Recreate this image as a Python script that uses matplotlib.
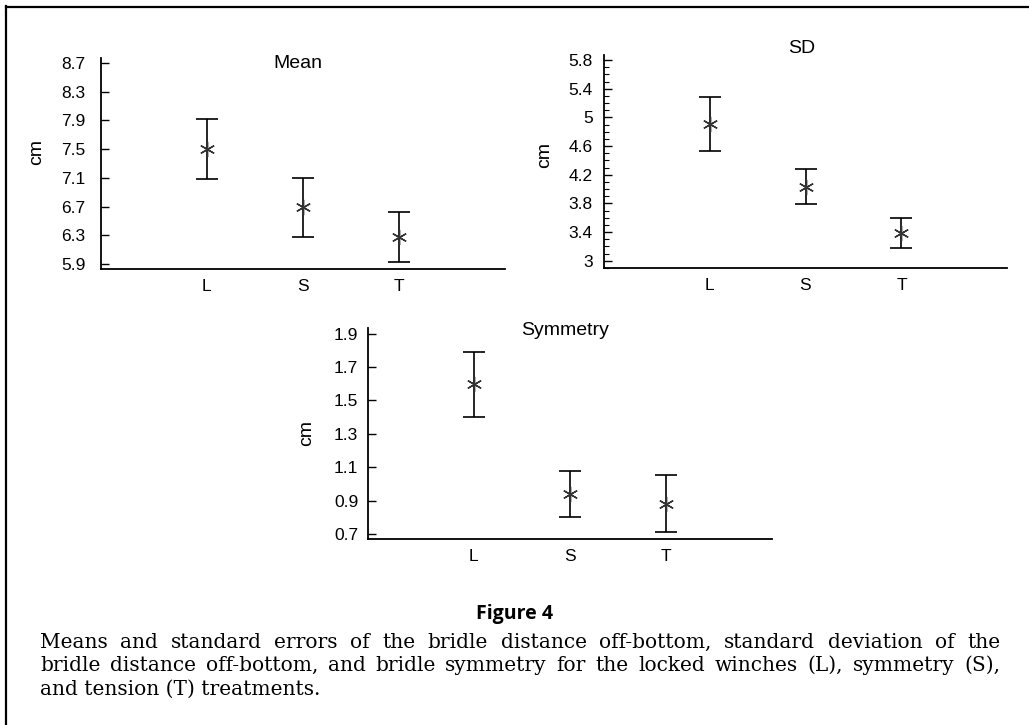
import matplotlib
matplotlib.use("Agg")
import matplotlib.pyplot as plt
import numpy as np

categories = ["L", "S", "T"]

mean_vals = [7.50, 6.70, 6.27]
mean_upper = [7.92, 7.10, 6.62]
mean_lower = [7.08, 6.28, 5.93]
mean_ticks = [5.9, 6.3, 6.7, 7.1, 7.5, 7.9, 8.3, 8.7]

sd_vals = [4.91, 4.03, 3.39]
sd_upper = [5.285, 4.28, 3.60]
sd_lower = [4.53, 3.79, 3.18]
sd_ticks = [3, 3.4, 3.8, 4.2, 4.6, 5, 5.4, 5.8]

sym_vals = [1.596, 0.94, 0.88]
sym_upper = [1.79, 1.078, 1.056]
sym_lower = [1.40, 0.80, 0.71]
sym_ticks = [0.7, 0.9, 1.1, 1.3, 1.5, 1.7, 1.9]

titles = ["Mean", "SD", "Symmetry"]
ylabel = "cm"
fig_title = "Figure 4"
caption_lines = [
    "Means and standard errors of the bridle distance off-bottom, standard deviation of the",
    "bridle distance off-bottom, and bridle symmetry for the locked winches (L), symmetry (S),",
    "and tension (T) treatments.",
]

W, H = 1029, 725
fig = plt.figure(figsize=(W / 100, H / 100), dpi=100)
plt.rcParams['font.family'] = ['Liberation Sans', 'DejaVu Sans']

def px_axes(l, r, t, b):
    return fig.add_axes([l / W, 1 - b / H, (r - l) / W, (b - t) / H])

panels = [
    dict(box=(101, 505, 58, 269), vals=mean_vals, up=mean_upper, lo=mean_lower,
         ticks=mean_ticks, ylim=(5.83, 8.77), minor=False, pad=11,
         title_xy=(0.488, 0.975), ylab_xy=(-0.139, 0.555), title=titles[0]),
    dict(box=(604, 1007, 55, 268), vals=sd_vals, up=sd_upper, lo=sd_lower,
         ticks=sd_ticks, ylim=(2.927, 5.87), minor=True, pad=8,
         title_xy=(0.491, 1.03), ylab_xy=(-0.127, 0.53), title=titles[1]),
    dict(box=(368, 772, 328, 539), vals=sym_vals, up=sym_upper, lo=sym_lower,
         ticks=sym_ticks, ylim=(0.67, 1.933), minor=False, pad=7,
         title_xy=(0.488, 0.99), ylab_xy=(-0.131, 0.502), title=titles[2]),
]

x = np.arange(len(categories))
for p in panels:
    ax = px_axes(*p["box"])
    vals = np.array(p["vals"])
    err = [vals - np.array(p["lo"]), np.array(p["up"]) - vals]
    ax.errorbar(x, vals, yerr=err, fmt='none', ecolor='black', elinewidth=1.2,
                capsize=8, capthick=1.2, zorder=2)
    ax.plot(x, vals, linestyle='none', marker=(6, 2, 0), markersize=11,
            markeredgewidth=1.0, color='#333333', zorder=3)
    ax.set_xlim(-1.1, 3.1)
    ax.set_ylim(*p["ylim"])
    ax.set_xticks(x)
    ax.set_xticklabels(categories, fontsize=12.5)
    ax.set_yticks(p["ticks"])
    ax.set_yticklabels([f"{t:g}" for t in p["ticks"]], fontsize=12.5)
    ax.tick_params(axis='x', length=0, pad=7)
    ax.tick_params(axis='y', direction='in', length=6, width=1.0, pad=p["pad"])
    if p["minor"]:
        ax.set_yticks(np.arange(2.9, 5.85, 0.1), minor=True)
        ax.tick_params(axis='y', which='minor', direction='in', length=3.5, width=0.8)
    for s in ['top', 'right']:
        ax.spines[s].set_visible(False)
    for s in ['left', 'bottom']:
        ax.spines[s].set_linewidth(1.3)
    ax.text(*p["title_xy"], p["title"], transform=ax.transAxes, ha='center',
            va='center', fontsize=14)
    ax.set_ylabel(ylabel, fontsize=14)
    ax.yaxis.set_label_coords(*p["ylab_xy"])
    ax.patch.set_alpha(0)

# outer border (left and top only)
fig.add_artist(plt.Line2D([5.5 / W, 5.5 / W], [0, 1 - 6 / H], color='black', lw=1.6))
fig.add_artist(plt.Line2D([5.5 / W, 1], [1 - 6.5 / H, 1 - 6.5 / H], color='black', lw=1.6))

fig.text(515 / W, 1 - 619 / H, fig_title, ha='center', va='baseline',
         fontsize=14, fontweight='bold', family=['Open Sans', 'DejaVu Sans'])

# caption (justified lines)
renderer = fig.canvas.get_renderer()
left_px, right_px = 40, 1000
baselines = [648, 671, 695]
cap_font = dict(fontsize=14.5, family=['DejaVu Serif'])
for i, line in enumerate(caption_lines):
    yb = 1 - baselines[i] / H
    if i == len(caption_lines) - 1:
        fig.text(left_px / W, yb, line, ha='left', va='baseline', **cap_font)
        continue
    words = line.split(' ')
    widths = []
    for w in words:
        t = fig.text(0, 0, w, **cap_font)
        widths.append(t.get_window_extent(renderer).width)
        t.remove()
    gap = (right_px - left_px - sum(widths)) / (len(words) - 1)
    xpos = left_px
    for w, wd in zip(words, widths):
        fig.text(xpos / W, yb, w, ha='left', va='baseline', **cap_font)
        xpos += wd + gap

fig.savefig("out.png", dpi=100)
